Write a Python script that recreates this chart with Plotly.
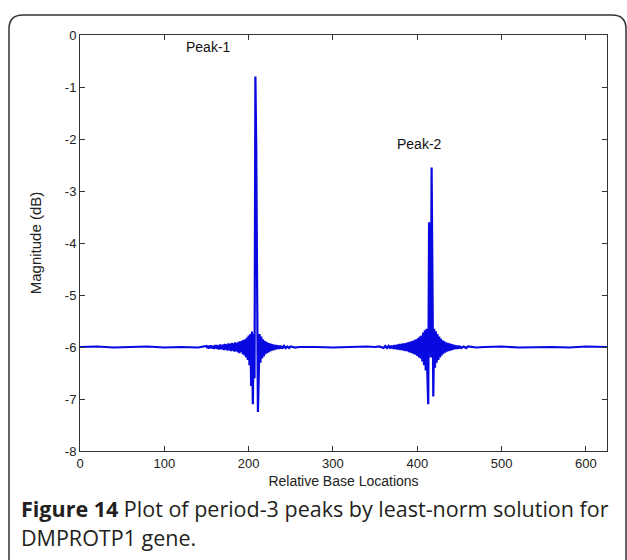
import plotly.graph_objects as go

# Relative base locations (x) and magnitude in dB (y)
base_x = [0, 20, 40, 60, 80, 100, 120, 140, 145,
          150, 151, 152, 153, 154, 155, 156, 157, 158, 159,
          160, 161, 162, 163, 164, 165, 166, 167, 168, 169,
          170, 171, 172, 173, 174, 175, 176, 177, 178, 179,
          180, 181, 182, 183, 184, 185, 186, 187, 188, 189,
          190, 191, 192, 193, 194, 195, 196, 197, 198, 199,
          200, 201, 202, 203, 204, 205, 206, 207, 208, 209,
          210, 211, 212, 213, 214, 215, 216, 217, 218, 219,
          220, 221, 222, 223, 224, 225, 226, 227, 228, 229,
          230, 231, 232, 233, 234, 235, 236, 237, 238, 239,
          240, 242, 244, 246, 248, 250, 255, 260, 280, 300, 320, 340, 350,
          355, 360, 362, 364, 366, 368, 369,
          370, 371, 372, 373, 374, 375, 376, 377, 378, 379,
          380, 381, 382, 383, 384, 385, 386, 387, 388, 389,
          390, 391, 392, 393, 394, 395, 396, 397, 398, 399,
          400, 401, 402, 403, 404, 405, 406, 407, 408, 409,
          410, 411, 412, 413, 414, 415, 416, 417, 418, 419,
          420, 421, 422, 423, 424, 425, 426, 427, 428, 429,
          430, 431, 432, 433, 434, 435, 436, 437, 438, 439,
          440, 441, 442, 443, 444, 445, 446, 447, 448, 449,
          450, 452, 455, 458, 460, 470, 480, 500, 520, 540, 560, 580, 600, 625]

magnitude_db = [-6.0, -5.99, -6.01, -6.0, -5.99, -6.01, -6.0, -6.01, -5.99,
                -5.98, -6.02, -5.98, -6.03, -5.97, -6.02, -5.97, -6.03, -5.98, -6.04,
                -5.96, -6.03, -5.96, -6.04, -5.97, -6.05, -5.95, -6.04, -5.96, -6.05,
                -5.95, -6.06, -5.94, -6.05, -5.95, -6.07, -5.93, -6.06, -5.94, -6.08,
                -5.92, -6.07, -5.93, -6.09, -5.91, -6.08, -5.92, -6.10, -5.90, -6.12,
                -5.89, -6.10, -5.88, -6.14, -5.86, -6.16, -5.85, -6.20, -5.82, -6.25,
                -5.78, -6.35, -5.75, -6.75, -5.70, -7.10, -5.75, -6.60, -0.80, -2.15,
                -5.10, -7.25, -6.55, -5.75, -6.30, -5.80, -6.22, -5.85, -6.18, -5.88,
                -6.14, -5.90, -6.12, -5.92, -6.10, -5.93, -6.08, -5.94, -6.07, -5.95,
                -6.06, -5.96, -6.05, -5.96, -6.04, -5.97, -6.04, -5.97, -6.03, -5.98,
                -6.03, -5.98, -6.02, -5.99, -6.02, -5.99, -6.01, -6.0, -6.0, -6.01, -6.0, -5.99, -6.0,
                -5.99, -6.02, -5.98, -6.02, -5.98, -6.03, -5.97,
                -6.03, -5.97, -6.04, -5.96, -6.04, -5.96, -6.05, -5.95, -6.05, -5.94,
                -6.06, -5.94, -6.06, -5.93, -6.07, -5.93, -6.08, -5.92, -6.08, -5.91,
                -6.10, -5.90, -6.11, -5.89, -6.12, -5.88, -6.14, -5.86, -6.15, -5.85,
                -6.17, -5.83, -6.20, -5.80, -6.22, -5.78, -6.28, -5.72, -6.35, -5.68,
                -6.45, -5.65, -6.55, -7.10, -3.60, -5.35, -6.20, -2.55, -5.60, -6.95,
                -5.65, -6.40, -5.70, -6.30, -5.75, -6.25, -5.80, -6.20, -5.84, -6.16,
                -5.87, -6.13, -5.89, -6.11, -5.91, -6.09, -5.92, -6.08, -5.93, -6.07,
                -5.94, -6.06, -5.95, -6.05, -5.96, -6.04, -5.97, -6.04, -5.97, -6.03,
                -5.98, -6.02, -5.99, -6.02, -5.99, -6.01, -6.0, -5.99, -6.01, -6.0, -6.0, -6.01, -5.99, -6.0]

x_ticks = [0, 100, 200, 300, 400, 500, 600]
x_tick_labels = ["0", "100", "200", "300", "400", "500", "600"]
y_ticks = [0, -1, -2, -3, -4, -5, -6, -7, -8]
y_tick_labels = ["0", "-1", "-2", "-3", "-4", "-5", "-6", "-7", "-8"]

peak_labels = ["Peak-1", "Peak-2"]
peak_label_x = [152, 403]
peak_label_y = [-0.23, -2.1]

caption_bold = "Figure 14"
caption_line1 = "Plot of period-3 peaks by least-norm solution for"
caption_line2 = "DMPROTP1 gene."

W, H = 627, 560
L, R, T, B = 80, 607, 35, 451


def px(xp):
    return (xp - L) / (R - L)


def py(yp):
    return (B - yp) / (B - T)


fig = go.Figure()
fig.add_trace(go.Scatter(x=base_x, y=magnitude_db, mode="lines",
                         line=dict(color="rgb(8,8,225)", width=2.2),
                         showlegend=False, hoverinfo="skip"))

axis_font = dict(family="Liberation Sans, Arial, sans-serif", size=13, color="#222")
common = dict(showgrid=False, zeroline=False, showline=True, linecolor="#333",
              linewidth=1, mirror="ticks", ticks="inside", ticklen=5,
              tickcolor="#333", tickfont=axis_font)

fig.update_layout(
    width=W, height=H, autosize=False,
    margin=dict(l=L, r=W - R, t=T, b=H - B, pad=0),
    paper_bgcolor="white", plot_bgcolor="white",
    xaxis=dict(range=[0, 625], tickvals=x_ticks, ticktext=x_tick_labels, **common,
               title=dict(text="Relative Base Locations",
                          font=dict(family="Liberation Sans, Arial, sans-serif", size=14, color="#222"),
                          standoff=6)),
    yaxis=dict(range=[-8, 0], tickvals=y_ticks, ticktext=y_tick_labels, **common,
               title=dict(text="Magnitude (dB)",
                          font=dict(family="Liberation Sans, Arial, sans-serif", size=15, color="#222"),
                          standoff=19)),
)

for t, xv, yv in zip(peak_labels, peak_label_x, peak_label_y):
    fig.add_annotation(x=xv, y=yv, text=t, showarrow=False,
                       font=dict(family="Liberation Sans, Arial, sans-serif", size=14, color="#111"))

# outer rounded frame
l0, t0, r0, b0, rad = 9, 15, 626, 575, 14
path = (f"M {px(l0)},{py(b0)} L {px(l0)},{py(t0 + rad)} "
        f"Q {px(l0)},{py(t0)} {px(l0 + rad)},{py(t0)} "
        f"L {px(r0 - rad)},{py(t0)} Q {px(r0)},{py(t0)} {px(r0)},{py(t0 + rad)} "
        f"L {px(r0)},{py(b0)}")
fig.add_shape(type="path", path=path, xref="paper", yref="paper",
              line=dict(color="#333", width=1.5))

cap_font = dict(family="Open Sans, Noto Sans, sans-serif", size=21.5, color="#231f20")
fig.add_annotation(xref="paper", yref="paper", x=px(19), y=py(508),
                   xanchor="left", yanchor="middle", showarrow=False,
                   text=f"<b>{caption_bold}</b> {caption_line1}", font=cap_font)
fig.add_annotation(xref="paper", yref="paper", x=px(19), y=py(537),
                   xanchor="left", yanchor="middle", showarrow=False,
                   text=caption_line2, font=cap_font)

fig.write_html("out.html")
